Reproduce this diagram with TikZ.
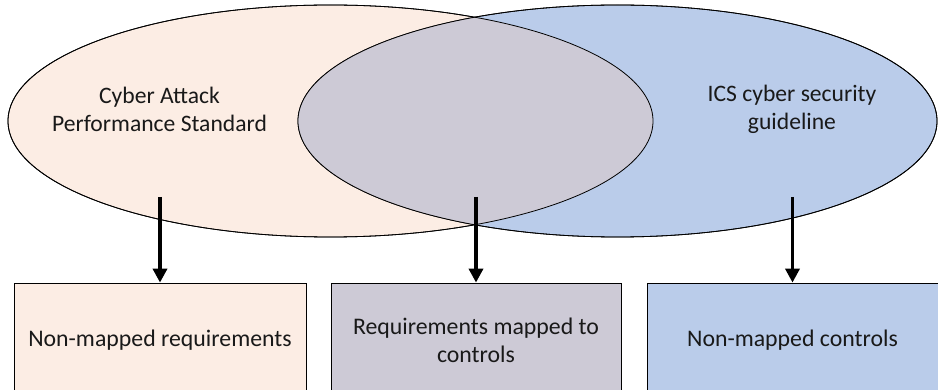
\documentclass[tikz,border=0pt]{standalone}
\usepackage{fontspec}
\setmainfont{Carlito}
\usetikzlibrary{arrows.meta,shapes.geometric}
\definecolor{peach}{RGB}{252,237,228}
\definecolor{lav}{RGB}{205,202,214}
\definecolor{sky}{RGB}{186,204,234}
\begin{document}
\begin{tikzpicture}[x=1pt,y=-1pt,
  setshape/.style={ellipse, minimum height=232pt, inner sep=0pt, draw=black, line width=0.8pt},
  outline/.style={draw=black, line width=0.8pt},
  lbl/.style={align=center, font=\fontsize{23.6}{28}\selectfont, text=black!90},
  box/.style={draw=black, line width=0.8pt, minimum height=114pt, inner sep=0pt,
              align=center, font=\fontsize{23.8}{28}\selectfont, text=black!90},
  arr/.style={line width=3.5pt, -{Triangle[length=14pt,width=14pt]}}]
\useasboundingbox (0,0) rectangle (938,390);
\clip (0,0) rectangle (938,390);

% the two sets
\node[setshape, fill=peach, minimum width=645pt] (cap) at (330.5,121) {};
\node[setshape, fill=sky, minimum width=639pt] (ics) at (617.5,121) {};
% their intersection
\begin{scope}
  \clip (330.5,121) ellipse [x radius=322.5pt, y radius=116pt];
  \fill[lav] (617.5,121) ellipse [x radius=319.5pt, y radius=116pt];
\end{scope}
\draw[outline] (330.5,121) ellipse [x radius=322.5pt, y radius=116pt];
\draw[outline] (617.5,121) ellipse [x radius=319.5pt, y radius=116pt];

% set labels
\node[lbl] (capt) at (159.5,109) {Cyber Attack\\Performance Standard};
\node[lbl] (icst) at (792,109) {ICS cyber security\\guideline};

% result boxes
\node[box, fill=peach, minimum width=292pt] (nmr) at (160,340) {Non-mapped requirements};
\node[box, fill=lav, minimum width=290pt] (rmc) at (476,340) {Requirements mapped to\\controls};
\node[box, fill=sky, minimum width=291pt] (nmc) at (792.5,340) {Non-mapped controls};

% arrows from each region down to its box
\coordinate (s1) at (160,197);
\coordinate (s2) at (476,197);
\coordinate (s3) at (792.5,197);
\draw[arr] (s1) -- (nmr.north);
\draw[arr] (s2) -- (rmc.north);
\draw[arr] (s3) -- (nmc.north);
\end{tikzpicture}
\end{document}
